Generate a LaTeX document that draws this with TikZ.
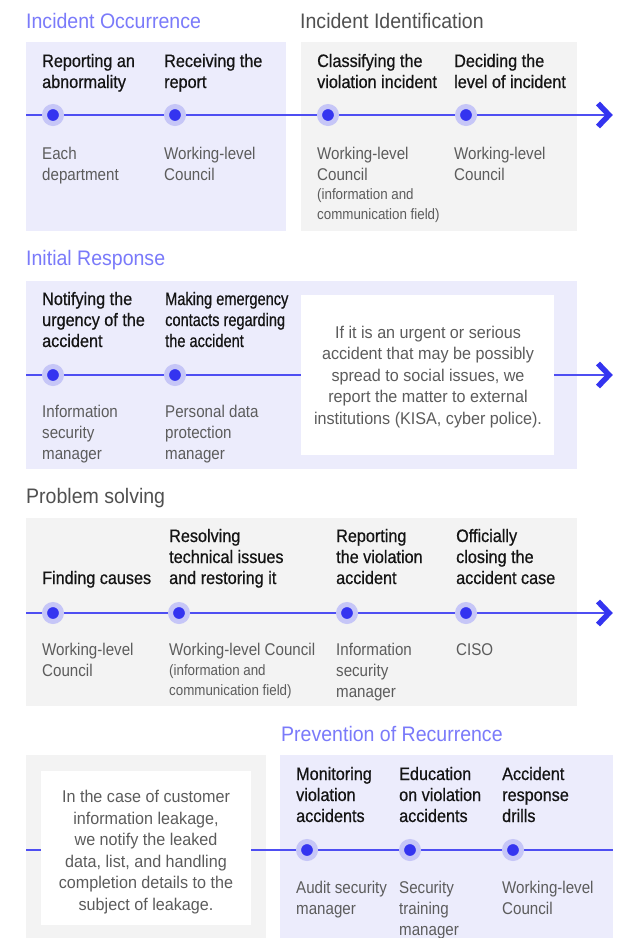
\documentclass[tikz,border=0pt]{standalone}
\usepackage{fontspec}
\setmainfont{Liberation Sans}[FakeStretch=0.9]
\newfontfamily\hdfam{Liberation Sans}[FakeStretch=0.9,FakeBold=0.6]
\newfontfamily\hdnarrow{Liberation Sans}[FakeStretch=0.81,FakeBold=0.6]
\newfontfamily\sbfam{Liberation Sans}[FakeStretch=0.89]
\newfontfamily\wtfam{Liberation Sans}[FakeStretch=0.95]
\newfontfamily\tlfam{Liberation Sans}[FakeStretch=0.93]
\definecolor{lav}{RGB}{236,236,252}
\definecolor{gbg}{RGB}{243,243,243}
\definecolor{tlblue}{RGB}{122,122,250}
\definecolor{lnblue}{RGB}{78,78,242}
\definecolor{dotblue}{RGB}{52,52,240}
\definecolor{halo}{RGB}{198,198,247}
\definecolor{hdcol}{RGB}{20,20,20}
\definecolor{sbcol}{RGB}{92,92,92}
\definecolor{ttgray}{RGB}{80,80,80}
\begin{document}
\begin{tikzpicture}[x=1pt,y=-1pt,
  lavbox/.style={fill=lav},
  graybox/.style={fill=gbg},
  wbox/.style={fill=white,draw=none,inner sep=0,rectangle},
  tline/.style={draw=lnblue,line width=1.4pt},
  chev/.style={draw=dotblue,line width=5.5pt,line join=miter,line cap=butt},
  dot/.style={circle,fill=dotblue,draw=halo,line width=5pt,minimum size=17pt,inner sep=0},
  ttlb/.style={anchor=base west,inner sep=0,text=tlblue,font=\tlfam\fontsize{21}{25}\selectfont},
  ttlg/.style={anchor=base west,inner sep=0,text=ttgray,font=\tlfam\fontsize{21}{25}\selectfont},
  hd/.style={anchor=base west,inner sep=0,align=left,text=hdcol,font=\hdfam\fontsize{18}{21}\selectfont},
  hdn/.style={anchor=base west,inner sep=0,align=left,text=hdcol,font=\hdnarrow\fontsize{18}{21}\selectfont},
  sb/.style={anchor=base west,inner sep=0,align=left,text=sbcol,font=\sbfam\fontsize{17}{21}\selectfont},
  sm/.style={anchor=base west,inner sep=0,align=left,text=sbcol,font=\sbfam\fontsize{15}{20}\selectfont},
  wt/.style={anchor=center,inner sep=0,align=center,text=sbcol,font=\wtfam\fontsize{17}{21.5}\selectfont}
]
\useasboundingbox (0,0) rectangle (621,938);
\fill[white] (0,0) rectangle (621,938);

% note: multi-line nodes are placed at the baseline of their LAST line

% ---------- Section 1 ----------
\node[ttlb] (t1) at (26,28) {Incident Occurrence};
\node[ttlg] (t2) at (300,28) {Incident Identification};
\fill[lavbox] (26,42) rectangle (286,231);
\fill[graybox] (301,42) rectangle (577,231);
\coordinate (l1) at (26,115);
\coordinate (e1) at (609,115);
\draw[tline] (l1) -- (e1);
\draw[chev] ([shift={(-11,-11.5)}]e1) -- (e1) -- ([shift={(-11,11.5)}]e1);
\node[dot] (d11) at (53,115) {};
\node[dot] (d12) at (175,115) {};
\node[dot] (d13) at (328,115) {};
\node[dot] (d14) at (466,115) {};
\node[hd] (h11) at (42,88) {Reporting an\\abnormality};
\node[hd] (h12) at (164,88) {Receiving the\\report};
\node[hd] (h13) at (317,88) {Classifying the\\violation incident};
\node[hd] (h14) at (454,88) {Deciding the\\level of incident};
\node[sb] (s11) at (42,180) {Each\\department};
\node[sb] (s12) at (164,180) {Working-level\\Council};
\node[sb] (s13) at (317,180) {Working-level\\Council};
\node[sm] (s13b) at (317,219) {(information and\\communication field)};
\node[sb] (s14) at (454,180) {Working-level\\Council};

% ---------- Section 2 ----------
\node[ttlb] (t3) at (26,265) {Initial Response};
\fill[lavbox] (26,281) rectangle (577,469);
\node[wbox,minimum width=253pt,minimum height=160pt] (wb2) at (427.5,375) {};
\coordinate (l2) at (26,375);
\coordinate (e2) at (609,375);
\draw[tline] (l2) -- (wb2.west);
\draw[tline] (wb2.east) -- (e2);
\draw[chev] ([shift={(-11,-11.5)}]e2) -- (e2) -- ([shift={(-11,11.5)}]e2);
\node[dot] (d21) at (53,375) {};
\node[dot] (d22) at (175,375) {};
\node[hd] (h21) at (42,347) {Notifying the\\urgency of the\\accident};
\node[hdn] (h22) at (165,347) {Making emergency\\contacts regarding\\the accident};
\node[sb] (s21) at (42,459) {Information\\security\\manager};
\node[sb] (s22) at (165,459) {Personal data\\protection\\manager};
\node[wt] (w2) at (428,377) {If it is an urgent or serious\\accident that may be possibly\\spread to social issues, we\\report the matter to external\\institutions (KISA, cyber police).};

% ---------- Section 3 ----------
\node[ttlg] (t4) at (26,503) {Problem solving};
\fill[graybox] (26,518) rectangle (577,706);
\coordinate (l3) at (26,613);
\coordinate (e3) at (609,613);
\draw[tline] (l3) -- (e3);
\draw[chev] ([shift={(-11,-11.5)}]e3) -- (e3) -- ([shift={(-11,11.5)}]e3);
\node[dot] (d31) at (53,613) {};
\node[dot] (d32) at (179,613) {};
\node[dot] (d33) at (347,613) {};
\node[dot] (d34) at (466,613) {};
\node[hd] (h31) at (42,584) {Finding causes};
\node[hd] (h32) at (169,584) {Resolving\\technical issues\\and restoring it};
\node[hd] (h33) at (336,584) {Reporting\\the violation\\accident};
\node[hd] (h34) at (456,584) {Officially\\closing the\\accident case};
\node[sb] (s31) at (42,676) {Working-level\\Council};
\node[sb] (s32) at (169,655) {Working-level Council};
\node[sm] (s32b) at (169,695) {(information and\\communication field)};
\node[sb] (s33) at (336,697) {Information\\security\\manager};
\node[sb] (s34) at (456,655) {CISO};

% ---------- Section 4 ----------
\node[ttlb] (t5) at (281,741) {Prevention of Recurrence};
\fill[graybox] (26,755) rectangle (266,938);
\fill[lavbox] (280,755) rectangle (613,938);
\node[wbox,minimum width=210pt,minimum height=154pt] (wb4) at (146,848) {};
\coordinate (l4) at (26,850);
\coordinate (e4) at (613,850);
\draw[tline] (l4) -- (l4 -| wb4.west);
\draw[tline] (e4 -| wb4.east) -- (e4);
\node[dot] (d41) at (307,850) {};
\node[dot] (d42) at (410,850) {};
\node[dot] (d43) at (513,850) {};
\node[hd] (h41) at (296,822) {Monitoring\\violation\\accidents};
\node[hd] (h42) at (399,822) {Education\\on violation\\accidents};
\node[hd] (h43) at (502,822) {Accident\\response\\drills};
\node[sb] (s41) at (296,914) {Audit security\\manager};
\node[sb] (s42) at (399,935) {Security\\training\\manager};
\node[sb] (s43) at (502,914) {Working-level\\Council};
\node[wt] (w4) at (146,852) {In the case of customer\\information leakage,\\we notify the leaked\\data, list, and handling\\completion details to the\\subject of leakage.};
\end{tikzpicture}
\end{document}
